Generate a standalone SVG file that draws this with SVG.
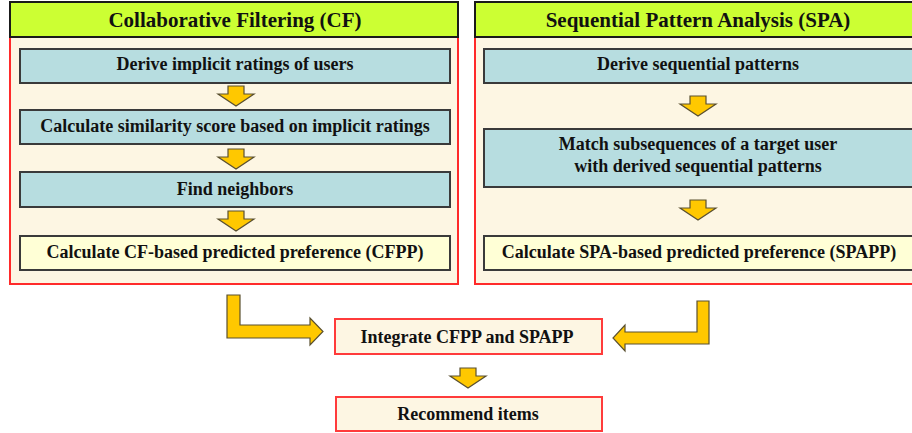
<svg xmlns="http://www.w3.org/2000/svg" width="912" height="433" viewBox="0 0 912 433">
<defs>
<style>
.hdr{fill:#CCFF33;stroke:#1a1a1a;stroke-width:2}
.body{fill:#FDF6E3;stroke:#FF2A2A;stroke-width:2}
.step{fill:#B7DDE0;stroke:#3a3a3a;stroke-width:2}
.res{fill:#FFFFD6;stroke:#3a3a3a;stroke-width:2}
.fin{fill:#FDF6E3;stroke:#FF3B3B;stroke-width:2}
.arr{fill:#FFC800;stroke:#5a5030;stroke-width:1.2;stroke-linejoin:miter}
text{font-family:"Liberation Serif","Times New Roman",serif;font-weight:bold;fill:#111;text-anchor:middle}
.ht{font-size:21px}
.bt{font-size:18px}
</style>
<path id="chev" d="M-8,0 H8 V8 H18 L0,20 L-18,8 H-8 Z"/>
</defs>
<rect width="912" height="433" fill="#ffffff"/>

<g id="cf-panel">
<rect class="body" x="10" y="37" width="448" height="247"/>
<rect class="hdr" x="10" y="2" width="448" height="35"/>
<text class="ht" x="235" y="27">Collaborative Filtering (CF)</text>
</g>
<g id="spa-panel">
<rect class="body" x="475" y="37" width="450" height="247"/>
<rect class="hdr" x="475" y="2" width="450" height="35"/>
<text class="ht" x="698" y="27">Sequential Pattern Analysis (SPA)</text>
</g>

<g id="cf1"><rect class="step" x="20" y="49" width="430" height="34"/><text class="bt" x="235" y="69.5">Derive implicit ratings of users</text></g>
<g id="cf2"><rect class="step" x="20" y="110" width="430" height="34"/><text class="bt" x="235" y="131.5">Calculate similarity score based on implicit ratings</text></g>
<g id="cf3"><rect class="step" x="20" y="172" width="430" height="35"/><text class="bt" x="235" y="194.5">Find neighbors</text></g>
<g id="cf4"><rect class="res" x="20" y="236" width="430" height="34"/><text class="bt" x="235" y="257.5">Calculate CF-based predicted preference (CFPP)</text></g>

<g id="spa1"><rect class="step" x="484" y="49" width="440" height="34"/><text class="bt" x="698" y="69.5">Derive sequential patterns</text></g>
<g id="spa2"><rect class="step" x="484" y="129" width="440" height="58"/><text class="bt" x="698" y="149.5">Match subsequences of a target user</text><text class="bt" x="698" y="172">with derived sequential patterns</text></g>
<g id="spa3"><rect class="res" x="484" y="236" width="440" height="34"/><text class="bt" x="699" y="257.5">Calculate SPA-based predicted preference (SPAPP)</text></g>

<g id="integrate"><rect class="fin" x="335" y="319" width="267" height="35"/><text class="bt" x="467" y="343">Integrate CFPP and SPAPP</text></g>
<g id="recommend"><rect class="fin" x="336" y="397" width="266" height="34"/><text class="bt" x="468" y="419.5">Recommend items</text></g>

<g id="connectors">
<use href="#chev" class="arr" x="236" y="86"/>
<use href="#chev" class="arr" x="236" y="149"/>
<use href="#chev" class="arr" x="236" y="211"/>
<use href="#chev" class="arr" x="698" y="96"/>
<use href="#chev" class="arr" x="698" y="200"/>
<use href="#chev" class="arr" x="468" y="368"/>
<path class="arr" d="M227,295 H240 V325 H310 V318 L323,331.5 L310,345 V338 H227 Z"/>
<path class="arr" d="M709,301 V344 H625 V351 L613,338 L625,325 V332 H697 V301 Z"/>
</g>
</svg>
